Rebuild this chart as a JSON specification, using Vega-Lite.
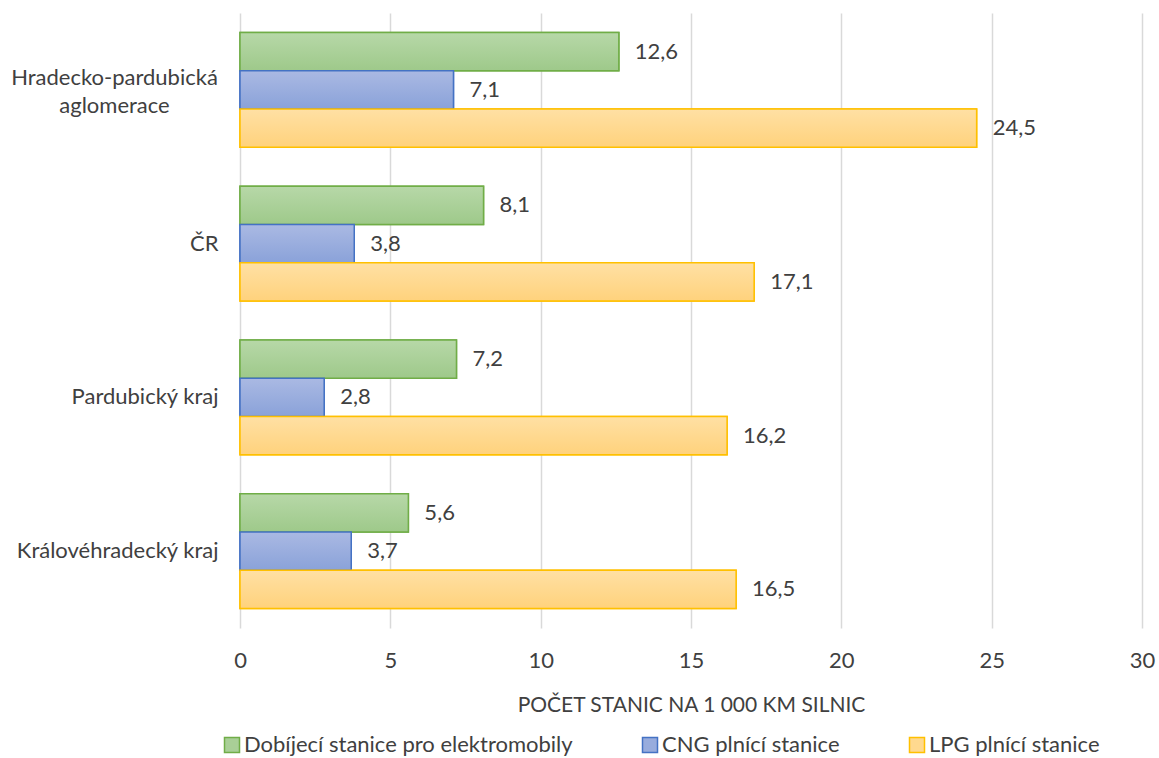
{
  "$schema": "https://vega.github.io/schema/vega-lite/v6.json",
  "autosize": "none",
  "width": 902,
  "height": 615,
  "padding": {"left": 240, "top": 13, "right": 17, "bottom": 130},
  "background": "white",
  "data": {
    "values": [
      {"region": "Hradecko-pardubická aglomerace", "series": "Dobíjecí stanice pro elektromobily", "value": 12.6},
      {"region": "Hradecko-pardubická aglomerace", "series": "CNG plnící stanice", "value": 7.1},
      {"region": "Hradecko-pardubická aglomerace", "series": "LPG plnící stanice", "value": 24.5},
      {"region": "ČR", "series": "Dobíjecí stanice pro elektromobily", "value": 8.1},
      {"region": "ČR", "series": "CNG plnící stanice", "value": 3.8},
      {"region": "ČR", "series": "LPG plnící stanice", "value": 17.1},
      {"region": "Pardubický kraj", "series": "Dobíjecí stanice pro elektromobily", "value": 7.2},
      {"region": "Pardubický kraj", "series": "CNG plnící stanice", "value": 2.8},
      {"region": "Pardubický kraj", "series": "LPG plnící stanice", "value": 16.2},
      {"region": "Královéhradecký kraj", "series": "Dobíjecí stanice pro elektromobily", "value": 5.6},
      {"region": "Královéhradecký kraj", "series": "CNG plnící stanice", "value": 3.7},
      {"region": "Královéhradecký kraj", "series": "LPG plnící stanice", "value": 16.5}
    ]
  },
  "encoding": {
    "y": {
      "field": "region",
      "type": "nominal",
      "sort": null,
      "scale": {"paddingInner": 0.253, "paddingOuter": 0.127},
      "axis": {
        "title": null,
        "domain": false,
        "ticks": false,
        "grid": false,
        "labelFont": "Lato",
        "labelFontSize": 22,
        "labelColor": "#404040",
        "labelLimit": 400,
        "labelLineHeight": 28,
        "labelExpr": "datum.value == 'Hradecko-pardubická aglomerace' ? ['Hradecko-pardubická', 'aglomerace'] : datum.value",
        "labelAlign": {"condition": {"test": "datum.value == 'Hradecko-pardubická aglomerace'", "value": "center"}, "value": "right"},
        "labelPadding": {"condition": {"test": "datum.value == 'Hradecko-pardubická aglomerace'", "value": 126}, "value": 22},
        "labelOffset": {"condition": {"test": "datum.value == 'Hradecko-pardubická aglomerace'", "value": -12}, "value": 0}
      }
    },
    "yOffset": {
      "field": "series",
      "type": "nominal",
      "sort": ["Dobíjecí stanice pro elektromobily", "CNG plnící stanice", "LPG plnící stanice"]
    },
    "x": {
      "field": "value",
      "type": "quantitative",
      "scale": {"domain": [0, 30]},
      "axis": {
        "title": "POČET STANIC NA 1 000 KM SILNIC",
        "titleFont": "Lato",
        "titleFontSize": 21,
        "titleFontWeight": "normal",
        "titleColor": "#404040",
        "titlePadding": 23,
        "values": [0, 5, 10, 15, 20, 25, 30],
        "domain": false,
        "ticks": false,
        "grid": true,
        "gridColor": "#d9d9d9",
        "gridWidth": 1.5,
        "labelFont": "Lato",
        "labelFontSize": 22,
        "labelColor": "#404040",
        "labelPadding": 22,
        "labelFlush": false
      }
    }
  },
  "layer": [
    {
      "mark": {"type": "bar", "strokeWidth": 1.5},
      "encoding": {
        "fill": {
          "field": "series",
          "type": "nominal",
          "sort": ["Dobíjecí stanice pro elektromobily", "CNG plnící stanice", "LPG plnící stanice"],
          "scale": {
            "domain": ["Dobíjecí stanice pro elektromobily", "CNG plnící stanice", "LPG plnící stanice"],
            "range": ["#a9cf97", "#98acdd", "#ffd98f"]
          },
          "legend": {
            "orient": "none",
            "direction": "horizontal",
            "legendX": -19,
            "legendY": 721,
            "title": null,
            "symbolType": "square",
            "symbolSize": 225,
            "symbolStrokeWidth": 1.5,
            "labelFont": "Lato",
            "labelFontSize": 22,
            "labelColor": "#404040",
            "labelOffset": 1,
            "columnPadding": 66,
            "labelLimit": 400
          }
        },
        "stroke": {
          "field": "series",
          "type": "nominal",
          "sort": ["Dobíjecí stanice pro elektromobily", "CNG plnící stanice", "LPG plnící stanice"],
          "scale": {
            "domain": ["Dobíjecí stanice pro elektromobily", "CNG plnící stanice", "LPG plnící stanice"],
            "range": ["#70ad47", "#4472c4", "#ffc000"]
          },
          "legend": {
            "orient": "none",
            "direction": "horizontal",
            "legendX": -19,
            "legendY": 721,
            "title": null,
            "symbolType": "square",
            "symbolSize": 225,
            "symbolStrokeWidth": 1.5,
            "labelFont": "Lato",
            "labelFontSize": 22,
            "labelColor": "#404040",
            "labelOffset": 1,
            "columnPadding": 66,
            "labelLimit": 400
          }
        }
      }
    },
    {
      "transform": [{"filter": "datum.series == 'Dobíjecí stanice pro elektromobily'"}],
      "mark": {"type": "bar", "strokeWidth": 1.5, "stroke": "#70ad47",
        "fill": {"gradient": "linear", "x1": 0, "y1": 0, "x2": 0, "y2": 1, "stops": [{"offset": 0, "color": "#b7d8a8"}, {"offset": 1, "color": "#9ec98a"}]}}
    },
    {
      "transform": [{"filter": "datum.series == 'CNG plnící stanice'"}],
      "mark": {"type": "bar", "strokeWidth": 1.5, "stroke": "#4472c4",
        "fill": {"gradient": "linear", "x1": 0, "y1": 0, "x2": 0, "y2": 1, "stops": [{"offset": 0, "color": "#aab9e3"}, {"offset": 1, "color": "#8aa2d9"}]}}
    },
    {
      "transform": [{"filter": "datum.series == 'LPG plnící stanice'"}],
      "mark": {"type": "bar", "strokeWidth": 1.5, "stroke": "#ffc000",
        "fill": {"gradient": "linear", "x1": 0, "y1": 0, "x2": 0, "y2": 1, "stops": [{"offset": 0, "color": "#ffe0a4"}, {"offset": 1, "color": "#ffd27c"}]}}
    },
    {
      "transform": [{"calculate": "replace(format(datum.value, '.1f'), '.', ',')", "as": "label"}],
      "mark": {"type": "text", "align": "left", "baseline": "middle", "dx": 16, "font": "Lato", "fontSize": 22, "color": "#404040"},
      "encoding": {"text": {"field": "label"}}
    }
  ],
  "config": {"view": {"stroke": null}}
}
